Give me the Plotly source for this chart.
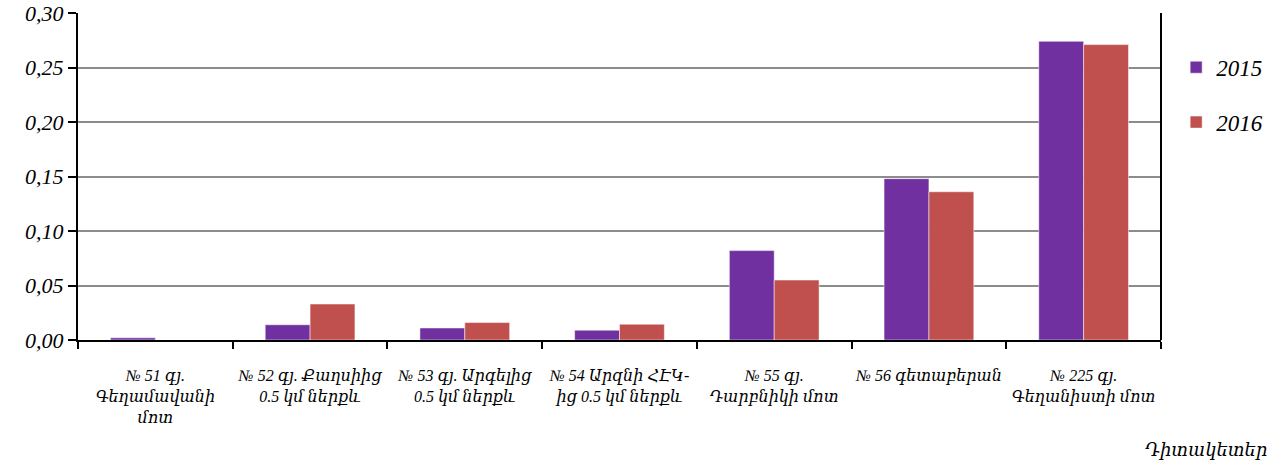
import plotly.graph_objects as go

# Observation points (category labels)
stations = [
    "№ 51 գյ.<br>Գեղամավանի<br>մոտ",
    "№ 52 գյ. Քաղսիից<br>0.5 կմ ներքև",
    "№ 53 գյ. Արգելից<br>0.5 կմ ներքև",
    "№ 54 Արզնի ՀԷԿ-<br>ից 0.5 կմ ներքև",
    "№ 55 գյ.<br>Դարբնիկի մոտ",
    "№ 56 գետաբերան",
    "№ 225 գյ.<br>Գեղանիստի մոտ",
]

values_2015 = [0.002, 0.014, 0.011, 0.009, 0.082, 0.148, 0.274]
values_2016 = [0.0, 0.033, 0.016, 0.0145, 0.055, 0.136, 0.271]

y_ticks = [0.0, 0.05, 0.10, 0.15, 0.20, 0.25, 0.30]
y_ticklabels = ["0,00", "0,05", "0,10", "0,15", "0,20", "0,25", "0,30"]

FONT = "Liberation Serif, DejaVu Serif"
C2015 = "#7030A0"
C2016 = "#C0504D"


def italic(s):
    return "<i>" + s.replace("<br>", "</i><br><i>") + "</i>"


fig = go.Figure()
fig.add_trace(go.Bar(
    x=stations, y=values_2015, name="<i>2015</i>", legendgroup="y2015",
    marker=dict(color=C2015, line=dict(color="#ffffff", width=0.5)),
))
fig.add_trace(go.Bar(
    x=stations, y=values_2016, name="<i>2016</i>", legendgroup="y2016",
    marker=dict(color=C2016, line=dict(color="#ffffff", width=0.5)),
))

fig.update_layout(
    width=1279, height=465,
    margin=dict(l=78, r=118, t=13, b=125, autoexpand=False),
    paper_bgcolor="white", plot_bgcolor="white",
    barmode="group", bargap=0.42, bargroupgap=0,
    font=dict(family=FONT, color="black"),
    showlegend=True,
    legend=dict(
        x=1.014, xanchor="left", y=0.75, yanchor="middle",
        font=dict(family=FONT, size=23),
        tracegroupgap=22, itemwidth=30,
    ),
    xaxis=dict(
        tickmode="array", tickvals=stations,
        ticktext=[italic(s) for s in stations],
        showline=True, linecolor="black", linewidth=2,
        ticks="outside", tickson="boundaries", ticklen=7,
        tickcolor="black", tickwidth=2, tickangle=0,
        ticklabelstandoff=20,
        tickfont=dict(family=FONT, size=16, style="italic"),
        showgrid=False,
    ),
    yaxis=dict(
        range=[0, 0.30], tickmode="array", tickvals=y_ticks,
        ticktext=[italic(t) for t in y_ticklabels],
        showline=True, linecolor="black", linewidth=2,
        ticks="outside", ticklen=8, tickcolor="black", tickwidth=2,
        tickfont=dict(family=FONT, size=22, style="italic"),
        showgrid=True, gridcolor="#8c8c8c", gridwidth=1.5,
        zeroline=False,
    ),
    annotations=[
        dict(
            text="<i>Դիտակետեր</i>", xref="paper", yref="paper",
            x=1.1, y=-0.3, xanchor="right", yanchor="top",
            showarrow=False,
            font=dict(family=FONT, size=18),
        ),
    ],
)

# Right border of the plotting area
fig.add_shape(type="line", xref="paper", yref="paper",
              x0=1, x1=1, y0=0, y1=1,
              line=dict(color="black", width=2))

fig.write_html("out.html")
